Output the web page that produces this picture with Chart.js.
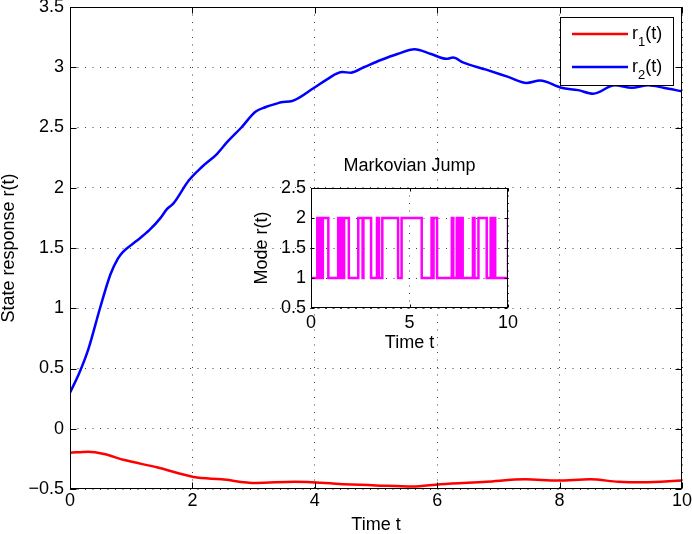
<!DOCTYPE html>
<html>
<head>
<meta charset="utf-8">
<script src="https://cdn.jsdelivr.net/npm/chart.js@4.4.1/dist/chart.umd.min.js"></script>
<style>
    body { margin: 0; background: #fff; }
    #wrap { position: relative; width: 692px; height: 534px; }
    #mainChart { position: absolute; left: 0; top: 0; }
    #insetChart { position: absolute; left: 230px; top: 150px; }
</style>
</head>
<body>
<div id="wrap">
    <canvas id="mainChart" width="692" height="534"></canvas>
    <canvas id="insetChart" width="290" height="210"></canvas>
</div>
<script>
// main plot: state responses
const r1Times = [0, 0.30, 0.56, 0.89, 1.42, 2.02, 2.48, 3.04, 3.67, 4.46, 5.0, 5.59, 6.05, 6.8, 7.44, 7.97, 8.5, 8.96, 9.36, 10];
const r1Values = [-0.20, -0.19, -0.21, -0.26, -0.32, -0.40, -0.42, -0.45, -0.44, -0.46, -0.47, -0.48, -0.46, -0.44, -0.42, -0.43, -0.42, -0.44, -0.445, -0.43];

const r2Times = [0, 0.15, 0.30, 0.49, 0.66, 0.78, 0.87, 1.09, 1.30, 1.48, 1.58, 1.69, 1.94, 2.15, 2.40, 2.57, 2.80, 3.03, 3.20, 3.39, 3.45, 3.63, 3.99, 4.20, 4.45, 4.59, 4.80, 5.08, 5.35, 5.63, 5.90, 6.15, 6.26, 6.42, 6.80, 7.16, 7.46, 7.68, 8.03, 8.30, 8.55, 8.90, 9.18, 9.45, 9.70, 10];
const r2Values = [0.30, 0.46, 0.66, 1.00, 1.28, 1.41, 1.47, 1.56, 1.65, 1.75, 1.82, 1.87, 2.06, 2.17, 2.28, 2.38, 2.50, 2.63, 2.67, 2.70, 2.71, 2.72, 2.83, 2.90, 2.96, 2.955, 3.00, 3.06, 3.11, 3.15, 3.11, 3.07, 3.08, 3.04, 2.98, 2.92, 2.87, 2.89, 2.83, 2.81, 2.78, 2.85, 2.83, 2.85, 2.83, 2.80];

const seriesNames = [['r', '1', '(t)'], ['r', '2', '(t)']];
const xTickLabels = ['0', '2', '4', '6', '8', '10'];
const yTickLabels = ['\u22120.5', '0', '0.5', '1', '1.5', '2', '2.5', '3', '3.5'];

// inset: markovian jump mode (switch times, mode after switch)
const modeTimes = [0, 0.32, 0.40, 0.44, 0.55, 0.60, 0.88, 1.38, 1.45, 1.52, 1.62, 1.68, 1.92, 2.40, 2.62, 2.66, 3.05, 3.35, 3.45, 3.62, 4.42, 4.60, 5.62, 6.12, 6.18, 6.22, 6.40, 7.15, 7.22, 7.40, 7.50, 7.58, 7.70, 8.22, 8.30, 8.50, 8.92, 9.12, 9.20, 9.28, 9.35, 10];
const modeValues = [1, 2, 1, 2, 1, 2, 1, 2, 1, 2, 1, 2, 1, 2, 1, 2, 1, 2, 1, 2, 1, 2, 1, 2, 1, 2, 1, 2, 1, 2, 1, 2, 1, 2, 1, 2, 1, 2, 1, 2, 1, 2];
const insetXTickLabels = ['0', '5', '10'];
const insetYTickLabels = ['0.5', '1', '1.5', '2', '2.5'];

Chart.defaults.font.family = '"Liberation Sans", Helvetica, Arial, sans-serif';
Chart.defaults.font.size = 18;
Chart.defaults.color = '#000';

const toPoints = (xs, ys) => xs.map((x, i) => ({x: x, y: ys[i]}));

// white plot background + black box + inward ticks (matlab look)
const framePlugin = {
    id: 'frame',
    beforeDraw(chart) {
        const a = chart.chartArea;
        const ctx = chart.ctx;
        ctx.save();
        ctx.fillStyle = '#fff';
        ctx.fillRect(a.left, a.top, a.right - a.left, a.bottom - a.top);
        ctx.restore();
    },
    afterDatasetsDraw(chart, args, opts) {
        const {ctx, chartArea: a, scales} = chart;
        const len = opts.tick || 6;
        const L = Math.round(a.left) + 0.5, R = Math.round(a.right) - 0.5;
        const T = Math.round(a.top) + 0.5, B = Math.round(a.bottom) - 0.5;
        ctx.save();
        ctx.strokeStyle = '#000';
        ctx.lineWidth = 1;
        ctx.beginPath();
        scales.x.ticks.forEach(t => {
            const px = Math.round(scales.x.getPixelForValue(t.value)) + 0.5;
            ctx.moveTo(px, B); ctx.lineTo(px, B - len);
            ctx.moveTo(px, T); ctx.lineTo(px, T + len);
        });
        scales.y.ticks.forEach(t => {
            const py = Math.round(scales.y.getPixelForValue(t.value)) + 0.5;
            ctx.moveTo(L, py); ctx.lineTo(L + len, py);
            ctx.moveTo(R, py); ctx.lineTo(R - len, py);
        });
        ctx.stroke();
        ctx.strokeRect(L, T, R - L, B - T);
        ctx.restore();
    }
};

// legend with subscripts, drawn like matlab's
const legendPlugin = {
    id: 'subLegend',
    afterDraw(chart, args, opts) {
        if (!opts.show) return;
        const ctx = chart.ctx;
        const bx = 560, by = 17, bw = 113, bh = 68;
        ctx.save();
        ctx.fillStyle = '#fff';
        ctx.fillRect(bx, by, bw, bh);
        ctx.strokeStyle = '#000';
        ctx.lineWidth = 1;
        ctx.strokeRect(bx + 0.5, by + 0.5, bw, bh);
        chart.data.datasets.forEach((ds, i) => {
            const y = 34 + i * 33;
            ctx.strokeStyle = ds.borderColor;
            ctx.lineWidth = ds.borderWidth;
            ctx.beginPath();
            ctx.moveTo(572, y);
            ctx.lineTo(628, y);
            ctx.stroke();
            const parts = seriesNames[i];
            let x = 632;
            ctx.fillStyle = '#000';
            ctx.textBaseline = 'middle';
            ctx.font = '18px "Liberation Sans", Helvetica, Arial, sans-serif';
            ctx.fillText(parts[0], x, y);
            x += ctx.measureText(parts[0]).width;
            ctx.font = '13px "Liberation Sans", Helvetica, Arial, sans-serif';
            ctx.fillText(parts[1], x, y + 8);
            x += ctx.measureText(parts[1]).width;
            ctx.font = '18px "Liberation Sans", Helvetica, Arial, sans-serif';
            ctx.fillText(parts[2], x, y);
        });
        ctx.restore();
    }
};

function fixAxis(size, horizontal) {
    return s => {
        if (horizontal) {
            s.height = size;
            s.paddingLeft = 0;
            s.paddingRight = 0;
        } else {
            s.width = size;
            s.paddingTop = 0;
            s.paddingBottom = 0;
        }
    };
}

const gridStyle = {color: 'rgba(0,0,0,0.75)', lineWidth: 1, drawTicks: false};
const borderStyle = {display: false, dash: [1, 6.5]};

new Chart(document.getElementById('mainChart'), {
    type: 'line',
    data: {
        datasets: [{
            data: toPoints(r1Times, r1Values),
            borderColor: '#ff0000',
            borderWidth: 2.5,
            pointRadius: 0,
            cubicInterpolationMode: 'monotone'
        }, {
            data: toPoints(r2Times, r2Values),
            borderColor: '#0000ff',
            borderWidth: 2.5,
            pointRadius: 0,
            cubicInterpolationMode: 'monotone'
        }]
    },
    options: {
        responsive: false,
        animation: false,
        layout: {padding: {top: 7, right: 10, bottom: 0, left: 0}},
        plugins: {
            legend: {display: false},
            tooltip: {enabled: false},
            frame: {tick: 6},
            subLegend: {show: true}
        },
        scales: {
            x: {
                type: 'linear',
                min: 0,
                max: 10,
                grid: gridStyle,
                border: borderStyle,
                ticks: {
                    stepSize: 2,
                    padding: 3,
                    font: {size: 18, lineHeight: 1},
                    callback: (v, i) => xTickLabels[i]
                },
                title: {display: true, text: 'Time t', font: {size: 18, lineHeight: 1}, padding: {top: 0, bottom: 0}},
                afterFit: fixAxis(45, true)
            },
            y: {
                type: 'linear',
                min: -0.5,
                max: 3.5,
                grid: gridStyle,
                border: borderStyle,
                ticks: {
                    stepSize: 0.5,
                    padding: 6,
                    font: {size: 18, lineHeight: 1},
                    callback: (v, i) => yTickLabels[i]
                },
                title: {display: true, text: 'State response r(t)', font: {size: 18, lineHeight: 1}, padding: {top: 0, bottom: 0}},
                afterFit: fixAxis(70, false)
            }
        }
    },
    plugins: [framePlugin, legendPlugin]
});

new Chart(document.getElementById('insetChart'), {
    type: 'line',
    data: {
        datasets: [{
            data: toPoints(modeTimes, modeValues),
            borderColor: '#ff00ff',
            borderWidth: 2.5,
            pointRadius: 0,
            stepped: true
        }]
    },
    options: {
        responsive: false,
        animation: false,
        layout: {padding: {top: 0, right: 12, bottom: 0, left: 0}},
        plugins: {
            legend: {display: false},
            tooltip: {enabled: false},
            frame: {tick: 3},
            subLegend: {show: false},
            title: {
                display: true,
                fullSize: false,
                text: 'Markovian Jump',
                font: {size: 18, lineHeight: 1, weight: 'normal'},
                color: '#000',
                padding: {top: 7, bottom: 13}
            }
        },
        scales: {
            x: {
                type: 'linear',
                min: 0,
                max: 10,
                grid: gridStyle,
                border: borderStyle,
                ticks: {
                    stepSize: 5,
                    padding: 6,
                    font: {size: 18, lineHeight: 1},
                    callback: (v, i) => insetXTickLabels[i]
                },
                title: {display: true, text: 'Time t', font: {size: 18, lineHeight: 1}, padding: {top: 0, bottom: 8}},
                afterFit: fixAxis(52, true)
            },
            y: {
                type: 'linear',
                min: 0.5,
                max: 2.5,
                grid: gridStyle,
                border: borderStyle,
                ticks: {
                    stepSize: 0.5,
                    padding: 5,
                    font: {size: 18, lineHeight: 1},
                    callback: (v, i) => insetYTickLabels[i]
                },
                title: {display: true, text: 'Mode r(t)', font: {size: 18, lineHeight: 1}, padding: {top: 23, bottom: 0}},
                afterFit: fixAxis(81, false)
            }
        }
    },
    plugins: [framePlugin, legendPlugin]
});
</script>
</body>
</html>
